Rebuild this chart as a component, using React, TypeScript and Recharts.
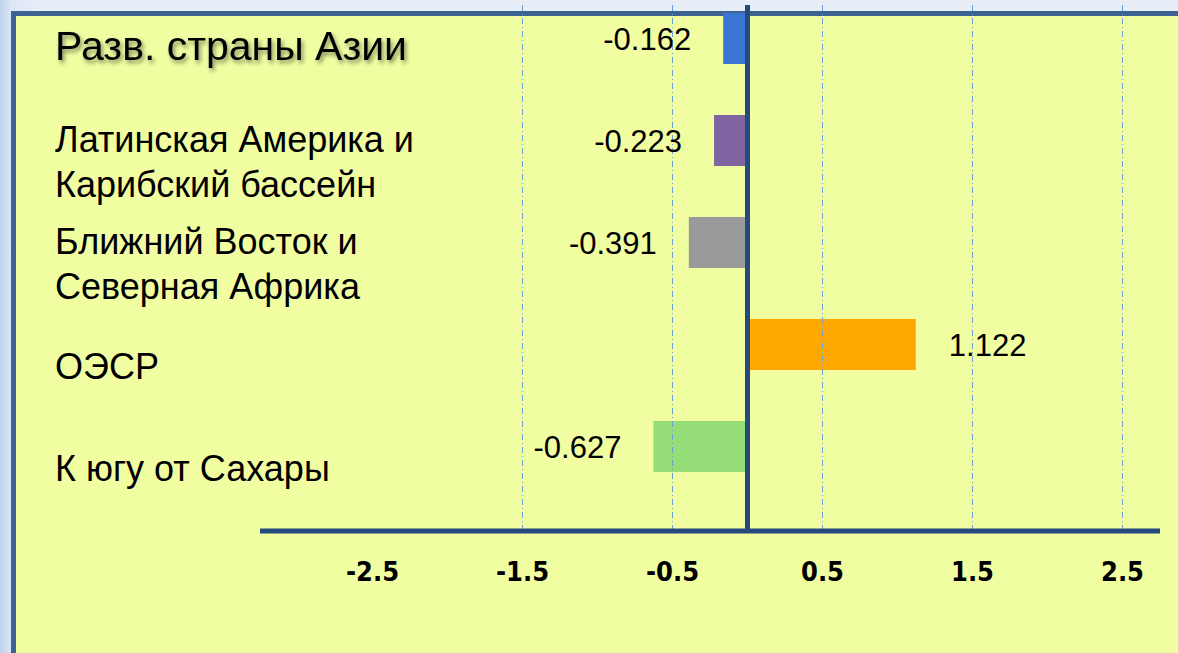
import { BarChart, Bar, XAxis, YAxis, ReferenceLine, Cell, LabelList } from 'recharts';

const categories = [
  'Разв. страны Азии',
  'Латинская Америка и\nКарибский бассейн',
  'Ближний Восток и\nСеверная Африка',
  'ОЭСР',
  'К югу от Сахары',
];
const values = [-0.162, -0.223, -0.391, 1.122, -0.627];
const xTicks = [-2.5, -1.5, -0.5, 0.5, 1.5, 2.5];
const gridValues = [-1.5, -0.5, 0.5, 1.5, 2.5];

const barColors = ['#3A75D6', '#8064A2', '#9A9A9A', '#FFA800', '#95DD77'];
const axisColor = '#244A7E';

const data = categories.map((name, i) => ({ name, value: values[i] }));

function CategoryTick(props: any) {
  const { y, payload, index } = props;
  const lines = String(payload.value).split('\n');
  const first = index === 0;
  const size = first ? 41 : 36;
  const lh = 45;
  // block centre sits a little below the bar
  const centre = y + (first ? 7 : 22);
  const top = centre - ((lines.length - 1) * lh) / 2;
  return (
    <text
      x={55}
      y={top}
      textAnchor="start"
      fontFamily="'Liberation Sans', Arial, sans-serif"
      fontSize={size}
      fill="#000"
      style={first ? { filter: 'drop-shadow(2px 3px 2px rgba(0,0,0,0.45))' } : undefined}
    >
      {lines.map((l, i) => (
        <tspan key={i} x={55} dy={i === 0 ? '0.36em' : lh}>
          {l}
        </tspan>
      ))}
    </text>
  );
}

function ValueTick(props: any) {
  const { x, y, payload } = props;
  return (
    <text
      x={x}
      y={y}
      dy={42}
      textAnchor="middle"
      fontFamily="'Liberation Sans Narrow', 'DejaVu Sans Condensed', Arial, sans-serif"
      fontWeight="bold"
      fontSize={27}
      fill="#000"
    >
      {String(payload.value)}
    </text>
  );
}

function ValueLabel(props: any) {
  const { x, y, width, height, value } = props;
  const left = Math.min(x, x + width);
  const right = Math.max(x, x + width);
  const neg = value < 0;
  return (
    <text
      x={neg ? left - 32 : right + 33}
      y={y + height / 2}
      dy="0.36em"
      textAnchor={neg ? 'end' : 'start'}
      fontFamily="'Liberation Sans', Arial, sans-serif"
      fontSize={31}
      fill="#000"
    >
      {String(value)}
    </text>
  );
}

export default function App() {
  return (
    <div style={{ position: 'absolute', left: 0, top: 0, width: 1178, height: 653, overflow: 'hidden' }}>
      {/* slide background and frame */}
      <div
        style={{
          position: 'absolute',
          inset: 0,
          background: 'linear-gradient(to right, #BFD2ED 0px, #DCE6F5 11px, #E8EEF8 40px)',
        }}
      />
      <div
        style={{
          position: 'absolute',
          left: 11,
          top: 11,
          width: 1200,
          height: 700,
          boxSizing: 'border-box',
          borderLeft: '5px solid #3D6393',
          borderTop: '5px solid #3D6393',
          background: '#F1FDA1',
        }}
      />
      <div style={{ position: 'absolute', left: 0, top: 0 }}>
        <BarChart
          width={1178}
          height={653}
          data={data}
          layout="vertical"
          margin={{ top: 5, right: 18, left: 55, bottom: 92 }}
          barSize={51}
        >
          <XAxis
            type="number"
            domain={[-3.25, 2.75]}
            ticks={xTicks}
            allowDataOverflow
            height={30}
            tickLine={false}
            axisLine={{ stroke: axisColor, strokeWidth: 5 }}
            tick={<ValueTick />}
            interval={0}
          />
          <YAxis
            type="category"
            dataKey="name"
            width={205}
            axisLine={false}
            tickLine={false}
            tick={<CategoryTick />}
            interval={0}
            padding={{ top: -18, bottom: 34 }}
          />
          <Bar dataKey="value" isAnimationActive={false}>
            {data.map((d, i) => (
              <Cell key={d.name} fill={barColors[i]} />
            ))}
            <LabelList dataKey="value" content={<ValueLabel />} />
          </Bar>
          {gridValues.map((v) => (
            <ReferenceLine key={v} x={v} stroke="#6E9FD6" strokeWidth={1} strokeDasharray="6 3 1 3" />
          ))}
          <ReferenceLine x={0} stroke={axisColor} strokeWidth={5} />
        </BarChart>
      </div>
    </div>
  );
}
